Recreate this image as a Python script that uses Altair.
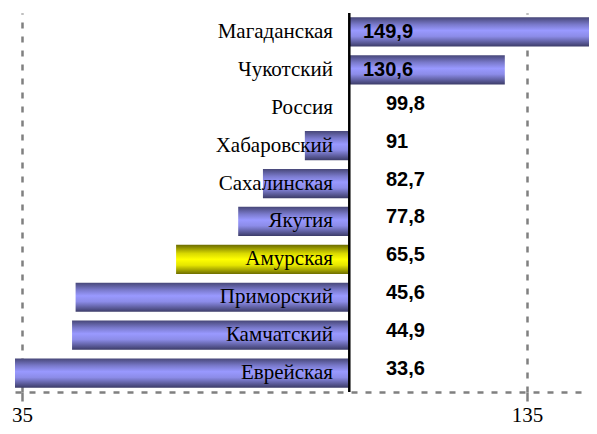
import altair as alt
import pandas as pd

regions = ["Магаданская", "Чукотский", "Россия", "Хабаровский", "Сахалинская",
           "Якутия", "Амурская", "Приморский", "Камчатский", "Еврейская"]
values = [149.9, 130.6, 99.8, 91, 82.7, 77.8, 65.5, 45.6, 44.9, 33.6]
value_labels = ["149,9", "130,6", "99,8", "91", "82,7", "77,8", "65,5", "45,6", "44,9", "33,6"]
highlight = "Амурская"
baseline_region = "Россия"
x_ticks = [35, 135]
x_domain = [33.6, 147.27]

baseline = values[regions.index(baseline_region)]
df = pd.DataFrame({"region": regions, "value": values, "label": value_labels})
df["base"] = baseline

blue_grad = alt.LinearGradient(
    gradient="linear", x1=0, y1=0, x2=0, y2=1,
    stops=[alt.GradientStop(color="#474778", offset=0),
           alt.GradientStop(color="#7a7acc", offset=0.25),
           alt.GradientStop(color="#9999ff", offset=0.45),
           alt.GradientStop(color="#8c8ce8", offset=0.65),
           alt.GradientStop(color="#3c3c68", offset=1)])
yellow_grad = alt.LinearGradient(
    gradient="linear", x1=0, y1=0, x2=0, y2=1,
    stops=[alt.GradientStop(color="#6b6b00", offset=0),
           alt.GradientStop(color="#d9d900", offset=0.3),
           alt.GradientStop(color="#ffff00", offset=0.5),
           alt.GradientStop(color="#e6e600", offset=0.7),
           alt.GradientStop(color="#6e6e00", offset=1)])

xs = alt.Scale(domain=x_domain, nice=False, zero=False)
xaxis = alt.Axis(values=x_ticks, title=None, grid=True,
                 gridColor="#808080", gridDash=[6, 8], gridWidth=2.5,
                 domainColor="#808080", domainDash=[6, 8], domainWidth=2.5,
                 tickColor="#808080", tickWidth=2.5, tickSize=9,
                 labelFont="Liberation Serif", labelFontSize=21, labelColor="black",
                 labelPadding=3, labelFlush=False)
y = alt.Y("region:N", sort=regions, axis=None,
          scale=alt.Scale(paddingInner=0.23, paddingOuter=0.115))

base = alt.Chart(df)

bars = base.transform_filter(
    (alt.datum.region != highlight) & (alt.datum.value != alt.datum.base)
).mark_bar(color=blue_grad).encode(
    x=alt.X("value:Q", scale=xs, axis=xaxis), x2="base:Q", y=y)

hbar = base.transform_filter(alt.datum.region == highlight).mark_bar(
    color=yellow_grad).encode(x=alt.X("value:Q", scale=xs), x2="base:Q", y=y)

vrule = base.transform_filter(alt.datum.region == baseline_region).mark_rule(
    color="black", strokeWidth=2.5).encode(x=alt.X("base:Q", scale=xs))

cat_text = base.mark_text(align="right", baseline="middle", font="Liberation Serif",
                          fontSize=21, color="black").encode(
    x=alt.value(318), y=y, text="region:N")

pos_text = base.transform_filter(alt.datum.value > alt.datum.base).mark_text(
    align="left", baseline="middle", font="Liberation Sans", fontWeight="bold",
    fontSize=20, color="black").encode(x=alt.value(348), y=y, text="label:N")

neg_text = base.transform_filter(alt.datum.value <= alt.datum.base).mark_text(
    align="left", baseline="middle", font="Liberation Sans", fontWeight="bold",
    fontSize=20, color="black", dy=-4).encode(x=alt.value(371), y=y, text="label:N")

chart = alt.layer(bars, hbar, vrule, cat_text, pos_text, neg_text).properties(
    width=574, height=379,
    autosize=alt.AutoSizeParams(type="none"),
    padding={"left": 7, "top": 5, "right": 0, "bottom": 34},
).configure_view(stroke=None)

chart.save("out.html", embed_options={"renderer": "svg", "actions": False})
